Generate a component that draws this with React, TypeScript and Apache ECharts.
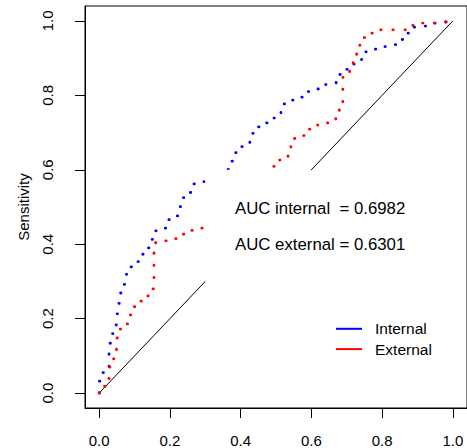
import React, { useEffect, useRef } from "react";
import * as echarts from "echarts";

// ROC curve of the internal cohort: [1 - specificity, sensitivity]
const internalRoc: number[][] = [
  [0, 0], [0, 0.032], [0.0095, 0.055], [0.028, 0.1], [0.028, 0.134], [0.036, 0.16],
  [0.045, 0.183], [0.049, 0.213], [0.053, 0.241], [0.058, 0.269], [0.067, 0.292],
  [0.075, 0.319], [0.087, 0.339], [0.107, 0.353], [0.119, 0.373], [0.136, 0.39],
  [0.145, 0.413], [0.155, 0.436], [0.184, 0.443], [0.192, 0.466], [0.216, 0.476],
  [0.223, 0.501], [0.232, 0.525], [0.252, 0.539], [0.261, 0.562], [0.29, 0.568],
  [0.358, 0.601], [0.368, 0.623], [0.378, 0.646], [0.396, 0.662], [0.426, 0.666],
  [0.426, 0.698], [0.443, 0.715], [0.465, 0.726], [0.484, 0.739], [0.507, 0.752],
  [0.514, 0.777], [0.538, 0.787], [0.563, 0.795], [0.583, 0.81], [0.61, 0.817],
  [0.63, 0.829], [0.66, 0.833], [0.67, 0.856], [0.688, 0.87], [0.708, 0.884],
  [0.742, 0.917], [0.769, 0.924], [0.796, 0.931], [0.825, 0.936], [0.845, 0.95],
  [0.862, 0.967], [0.877, 0.983], [0.908, 0.986], [0.934, 0.994], [0.964, 0.997], [1, 1],
];

// ROC curve of the external cohort: [1 - specificity, sensitivity]
const externalRoc: number[][] = [
  [0, 0], [0.014, 0.018], [0.028, 0.037], [0.028, 0.07], [0.038, 0.092], [0.049, 0.116],
  [0.049, 0.148], [0.059, 0.172], [0.077, 0.186], [0.087, 0.21], [0.097, 0.232],
  [0.116, 0.247], [0.136, 0.261], [0.149, 0.28], [0.155, 0.307], [0.155, 0.339],
  [0.155, 0.371], [0.155, 0.404], [0.185, 0.409], [0.212, 0.415], [0.233, 0.427],
  [0.256, 0.437], [0.286, 0.443], [0.486, 0.609], [0.501, 0.626], [0.53, 0.633],
  [0.534, 0.661], [0.542, 0.684], [0.567, 0.692], [0.585, 0.709], [0.609, 0.72],
  [0.637, 0.726], [0.66, 0.736], [0.669, 0.759], [0.679, 0.782], [0.689, 0.805],
  [0.689, 0.838], [0.69, 0.862], [0.708, 0.884], [0.718, 0.907], [0.728, 0.931],
  [0.737, 0.955], [0.757, 0.967], [0.782, 0.976], [0.817, 0.976], [0.851, 0.976],
  [0.874, 0.988], [0.901, 0.994], [0.965, 0.997], [1, 1],
];

const chanceLine: number[][] = [[0, 0], [1, 1]];
// blank area of the original figure: [x0, y0, x1, y1]
const blankArea: number[][] = [[0.3, 0.2, 0.6, 0.6]];

const xTicks = [0, 0.2, 0.4, 0.6, 0.8, 1.0];
const yTicks = [0, 0.2, 0.4, 0.6, 0.8, 1.0];
const seriesNames = ["Internal", "External"];
const aucLabels = ["AUC internal\u00A0 = 0.6982", "AUC external = 0.6301"];

const FONT = "'Liberation Sans', Arial, Helvetica, sans-serif";

export default function App() {
  const ref = useRef<HTMLDivElement>(null);
  useEffect(() => {
    if (!ref.current) return;
    const chart = echarts.init(ref.current, undefined, { renderer: "svg" });
    const dotted = (color: string) => ({
      color,
      width: 2.8,
      type: [0.4, 11.76] as number[],
      cap: "round" as const,
    });
    chart.setOption({
      animation: false,
      backgroundColor: "#fff",
      textStyle: { fontFamily: FONT },
      grid: {
        left: 85,
        top: 6,
        width: 384.5,
        height: 403,
        show: true,
        borderColor: "#000",
        borderWidth: 1,
        backgroundColor: "transparent",
      },
      xAxis: {
        type: "value",
        min: -0.04,
        max: 1.04,
        splitLine: { show: false },
        axisLine: { show: true, onZero: false, lineStyle: { color: "#000", width: 1 } },
        axisTick: { show: true, customValues: xTicks, length: 10, lineStyle: { color: "#000" } },
        axisLabel: {
          customValues: xTicks,
          formatter: (v: number) => v.toFixed(1),
          color: "#000",
          fontSize: 15,
          fontFamily: FONT,
          margin: 25,
        },
      },
      yAxis: {
        type: "value",
        min: -0.04,
        max: 1.04,
        name: "Sensitivity",
        nameLocation: "middle",
        nameRotate: 90,
        nameGap: 54,
        nameTextStyle: { color: "#000", fontSize: 15, fontFamily: FONT },
        splitLine: { show: false },
        axisLine: { show: true, onZero: false, lineStyle: { color: "#000", width: 1 } },
        axisTick: { show: true, customValues: yTicks, length: 10, lineStyle: { color: "#000" } },
        axisLabel: {
          customValues: yTicks,
          formatter: (v: number) => v.toFixed(1),
          rotate: 90,
          color: "#000",
          fontSize: 15,
          fontFamily: FONT,
          margin: 30,
        },
      },
      legend: {
        data: seriesNames,
        orient: "vertical",
        left: 336,
        top: 320.8,
        padding: 0,
        icon: "rect",
        itemWidth: 26,
        itemHeight: 2,
        itemGap: 4.3,
        selectedMode: false,
        textStyle: { color: "#000", fontSize: 15.5, fontFamily: FONT, padding: [0, 0, 0, 8] },
      },
      series: [
        {
          name: seriesNames[0],
          type: "line",
          data: internalRoc,
          step: "end",
          showSymbol: false,
          color: "#0000FF",
          itemStyle: { color: "#0000FF" },
          lineStyle: dotted("#0000FF"),
          z: 2,
        },
        {
          name: seriesNames[1],
          type: "line",
          data: externalRoc,
          step: "end",
          showSymbol: false,
          color: "#FF0000",
          itemStyle: { color: "#FF0000" },
          lineStyle: dotted("#FF0000"),
          z: 2,
        },
        {
          name: "chance",
          type: "line",
          data: chanceLine,
          showSymbol: false,
          lineStyle: { color: "#000", width: 1 },
          z: 1,
        },
        {
          name: "blank",
          type: "custom",
          data: blankArea,
          encode: { x: [0, 2], y: [1, 3] },
          z: 3,
          silent: true,
          renderItem: (_p: any, api: any) => {
            const a = api.coord([api.value(0), api.value(3)]);
            const b = api.coord([api.value(2), api.value(1)]);
            return {
              type: "rect",
              shape: { x: a[0], y: a[1], width: b[0] - a[0], height: b[1] - a[1] },
              style: { fill: "#fff" },
            };
          },
        },
      ],
      graphic: [
        {
          type: "text",
          x: 235,
          y: 208.3,
          z: 10,
          style: {
            text: aucLabels[0],
            fill: "#000",
            font: `16.8px ${FONT}`,
            verticalAlign: "middle",
            textAlign: "left",
          },
        },
        {
          type: "text",
          x: 235,
          y: 244,
          z: 10,
          style: {
            text: aucLabels[1],
            fill: "#000",
            font: `16.8px ${FONT}`,
            verticalAlign: "middle",
            textAlign: "left",
          },
        },
      ],
    });
    return () => chart.dispose();
  }, []);
  return (
    <div
      ref={ref}
      style={{ position: "fixed", left: 0, top: 0, width: 467, height: 448, background: "#fff" }}
    />
  );
}
